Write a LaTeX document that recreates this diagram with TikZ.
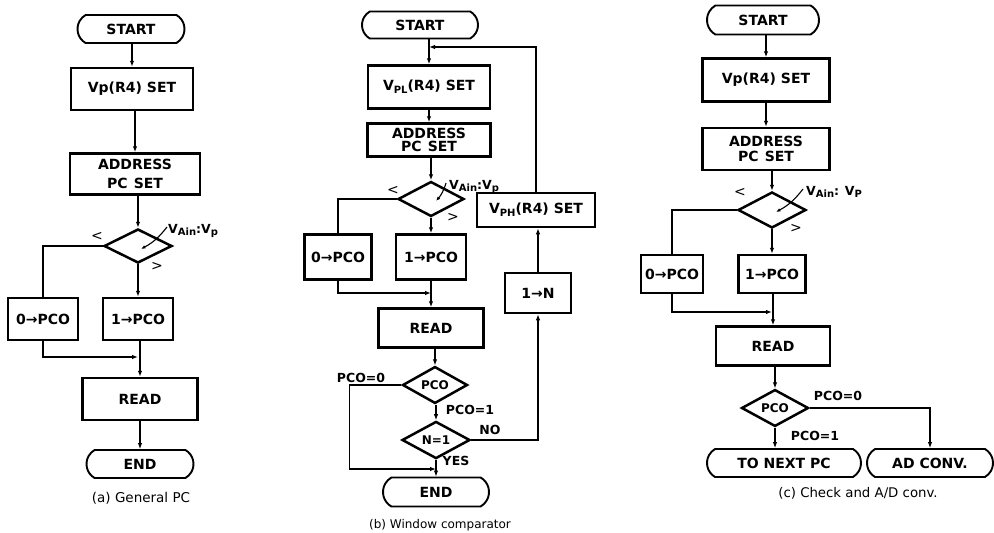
\documentclass[tikz,border=0pt]{standalone}
\usepackage{fontspec}
\setmainfont{DejaVu Sans}
\usetikzlibrary{shapes.geometric,shapes.misc,arrows.meta}
\newcommand{\lsub}[1]{\raisebox{-0.4ex}{\fontsize{10}{10}\selectfont #1}}
\begin{document}
\begin{tikzpicture}[x=1pt,y=-1pt,
  box/.style={draw,line width=2.5pt,inner sep=0pt,align=center,font=\bfseries\fontsize{14}{17}\selectfont},
  term/.style={draw,rounded rectangle,rounded rectangle arc length=120,line width=1.9pt,inner sep=0pt,font=\bfseries\fontsize{14}{16}\selectfont},
  dec/.style={draw,diamond,line width=2.5pt,inner sep=0pt,font=\bfseries\fontsize{12}{14}\selectfont},
  lbl/.style={inner sep=0pt,font=\bfseries\fontsize{12.5}{14}\selectfont},
  sym/.style={inner sep=0pt,font=\fontsize{14}{16}\selectfont},
  line/.style={line width=1.1pt},
  arr/.style={line width=1.1pt,-{Latex[length=6pt,width=4.5pt]}},
  lead/.style={line width=1.1pt,-{Latex[length=4.5pt,width=3.5pt]}},
  capt/.style={inner sep=0pt}
]
\path[use as bounding box,fill=white] (0,0) rectangle (994,533);

% ---------------- (a) ----------------
\node[term,minimum width=107pt,minimum height=28pt] (startA) at (131,29) {START};
\node[box,minimum width=122pt,minimum height=42pt] (vpA) at (132,89) {Vp(R4) SET};
\node[box,minimum width=130pt,minimum height=41pt,font=\bfseries\fontsize{14}{19}\selectfont] (adA) at (135,174) {ADDRESS\\PC\;\,SET};
\node[dec,minimum width=68pt,minimum height=34pt] (decA) at (138,246) {};
\node[box,minimum width=70pt,minimum height=42pt] (p0A) at (43,319) {0→PCO};
\node[box,minimum width=70pt,minimum height=42pt] (p1A) at (138,319) {1→PCO};
\node[box,minimum width=115pt,minimum height=42pt] (readA) at (140,399) {READ};
\node[term,minimum width=107pt,minimum height=28pt] (endA) at (140,464) {END};
\node[lbl,anchor=base west] (vlA) at (168,233) {V\lsub{Ain}:V\lsub{p}};
\node[sym] (ltA) at (97,236) {<};
\node[sym] (gtA) at (157,266) {>};
\node[capt,font=\fontsize{13.5}{16}\selectfont] (capA) at (141,498) {(a) General PC};
\coordinate (mA) at (138,357);

\draw[arr] (vpA.north |- startA.south) -- (vpA.north);
\draw[arr] (adA.north |- vpA.south) -- (adA.north);
\draw[arr] (decA.north |- adA.south) -- (decA.north);
\draw[line] (decA.west) -| (p0A.north);
\draw[arr] (decA.south) -- (p1A.north);
\draw[arr] (p0A.south) |- (mA);
\draw[arr] (readA.north |- p1A.south) -- (readA.north);
\draw[arr] (endA.north |- readA.south) -- (endA.north);
\draw[lead] ([shift={(-1,-6)}]vlA.base west) to[bend left=12] ([shift={(3,3)}]decA.center);

% ---------------- (b) ----------------
\node[term,minimum width=116pt,minimum height=27pt] (startB) at (420,25) {START};
\node[box,minimum width=122pt,minimum height=43pt] (vplB) at (429,87) {V\lsub{PL}(R4) SET};
\node[box,minimum width=123pt,minimum height=33pt,font=\bfseries\fontsize{14}{12.5}\selectfont] (adB) at (429,140) {ADDRESS\\PC\;\,SET};
\node[dec,minimum width=66pt,minimum height=35pt] (decB) at (431,199) {};
\node[box,minimum width=67pt,minimum height=45pt] (p0B) at (338,257) {0→PCO};
\node[box,minimum width=70pt,minimum height=45pt] (p1B) at (431,257) {1→PCO};
\node[box,minimum width=118pt,minimum height=34pt] (vphB) at (536,210) {V\lsub{PH}(R4) SET};
\node[box,minimum width=66pt,minimum height=40pt] (oneN) at (538,293) {1→N};
\node[box,minimum width=105pt,minimum height=39pt] (readB) at (431,328) {READ};
\node[dec,minimum width=65pt,minimum height=36pt] (pcoB) at (435,385) {PCO};
\node[dec,minimum width=68pt,minimum height=33pt] (n1B) at (436,440) {N=1};
\node[term,minimum width=106pt,minimum height=29pt] (endB) at (436,492) {END};
\node[lbl,anchor=base west] (vlB) at (449,189) {V\lsub{Ain}:V\lsub{p}};
\node[sym] (ltB) at (393,190) {<};
\node[sym] (gtB) at (453,217) {>};
\node[lbl] (l0B) at (361,378) {PCO=0};
\node[lbl] (l1B) at (470,410) {PCO=1};
\node[lbl] (noB) at (490,430) {NO};
\node[lbl] (yesB) at (456,461) {YES};
\node[capt,font=\fontsize{12}{14}\selectfont] (capB) at (440,525) {(b) Window comparator};
\coordinate (jB) at (429,47);
\coordinate (mB) at (431,293);
\coordinate (mB2) at (436,469);

\draw[arr] (vplB.north |- startB.south) -- (vplB.north);
\draw[arr] (vphB.north) |- (jB);
\draw[arr] (vplB.south) -- (adB.north);
\draw[arr] (decB.north |- adB.south) -- (decB.north);
\draw[line] (decB.west) -| (p0B.north);
\draw[arr] (decB.south) -- (p1B.north);
\draw[arr] (p0B.south) |- (mB);
\draw[arr] (p1B.south) -- (readB.north);
\draw[arr] (pcoB.north |- readB.south) -- (pcoB.north);
\draw[arr] (n1B.north |- pcoB.south) -- (n1B.north);
\draw[arr] (n1B.east) -| (oneN.south);
\draw[arr] (oneN.north) -- (oneN.north |- vphB.south);
\draw[arr] (n1B.south) -- (endB.north);
\draw[arr] (pcoB.west) -- ++(-52,0) |- (mB2);
\draw[lead] ([shift={(-3,-6)}]vlB.base west) to[bend left=12] ([shift={(5,2)}]decB.center);

% ---------------- (c) ----------------
\node[term,minimum width=112pt,minimum height=29pt] (startC) at (763,20) {START};
\node[box,minimum width=127pt,minimum height=43pt] (vpC) at (766,80) {Vp(R4) SET};
\node[box,minimum width=127pt,minimum height=42pt,font=\bfseries\fontsize{14}{15}\selectfont] (adC) at (766,149) {ADDRESS\\PC\;\,SET};
\node[dec,minimum width=68pt,minimum height=36pt] (decC) at (772,210) {};
\node[box,minimum width=62pt,minimum height=38pt] (p0C) at (672,274) {0→PCO};
\node[box,minimum width=67pt,minimum height=38pt] (p1C) at (772,274) {1→PCO};
\node[box,minimum width=114pt,minimum height=39pt] (readC) at (773,346) {READ};
\node[dec,minimum width=67pt,minimum height=35pt] (pcoC) at (775,408) {PCO};
\node[term,minimum width=154pt,minimum height=28pt] (nextC) at (784,463) {TO NEXT PC};
\node[term,minimum width=126pt,minimum height=28pt] (adcC) at (930,463) {AD CONV.};
\node[lbl,anchor=base west] (vlC) at (806,195) {V\lsub{Ain}: V\lsub{P}};
\node[sym] (ltC) at (740,192) {<};
\node[sym] (gtC) at (796,228) {>};
\node[lbl] (l0C) at (838,396) {PCO=0};
\node[lbl] (l1C) at (815,436) {PCO=1};
\node[capt,font=\fontsize{13.3}{16}\selectfont] (capC) at (858,493) {(c) Check and A/D conv.};
\coordinate (mC) at (772,312);

\draw[arr] (vpC.north |- startC.south) -- (vpC.north);
\draw[arr] (vpC.south) -- (adC.north);
\draw[arr] (decC.north |- adC.south) -- (decC.north);
\draw[line] (decC.west) -| (p0C.north);
\draw[arr] (decC.south) -- (p1C.north);
\draw[arr] (p0C.south) |- (mC);
\draw[arr] (readC.north |- p1C.south) -- (readC.north);
\draw[arr] (pcoC.north |- readC.south) -- (pcoC.north);
\draw[arr] (pcoC.south) -- (pcoC.south |- nextC.north);
\draw[arr] (pcoC.east) -| (adcC.north);
\draw[lead] ([shift={(-3,-6)}]vlC.base west) to[bend left=12] ([shift={(4,2)}]decC.center);
\end{tikzpicture}
\end{document}
